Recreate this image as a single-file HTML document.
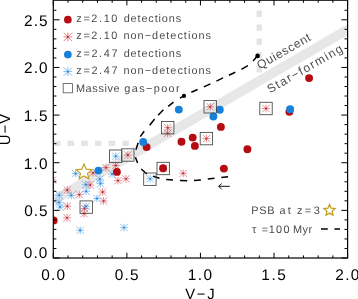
<!DOCTYPE html><html><head><meta charset="utf-8"><style>
html,body{margin:0;padding:0;background:#fff}
body{width:358px;height:299px;position:relative;overflow:hidden;font-family:"Liberation Sans",sans-serif}
svg{position:absolute;left:0;top:0}
svg.tx{will-change:transform}
svg text{font-family:"Liberation Sans",sans-serif;white-space:pre;text-rendering:geometricPrecision}
</style></head><body>
<svg width="358" height="299" viewBox="0 0 358 299" style="position:absolute;left:0;top:0">
<rect width="358" height="299" fill="#fff"/>
<defs><clipPath id="cp"><rect x="53.3" y="0.2" width="294.3" height="257.8"/></clipPath></defs>
<g clip-path="url(#cp)">
<line x1="53.2" y1="200.4" x2="349.2" y2="28.7" stroke="#e7e7e7" stroke-width="9.5"/>
<line x1="53.8" y1="143.4" x2="129" y2="143.4" stroke="#e4e4e4" stroke-width="5.4" stroke-dasharray="6.6 7.1"/>
<line x1="259.2" y1="-3.3" x2="259.2" y2="73" stroke="#e4e4e4" stroke-width="5.4" stroke-dasharray="6.3 7.6"/>
<path d="M257.6 55.6L253.1 61M247.9 65.7L241.4 69.4M235.3 72.2L228.9 75.2M223 77.9L216.4 81.1M210.4 83.9L203.8 86.9M197.6 89.5L191.3 92.3M183.9 95.8L179.9 98.1M173.5 102.1L168.2 106.3M163.4 109.8L158.1 115.2M154.6 119L149.7 125.3M144.2 131.2L140.3 136.6M138.2 142.7L135.9 149.7M135.4 157.2L137.6 163.1M141.2 169L146.9 174M153.2 176.3L159.5 178.2M166.2 179.6L173 180.1M180 180.5L187.2 180.7M194 180.5L200.9 180M207.8 179.1L214.5 178.2M221.4 177.6L228.1 176.7" fill="none" stroke="#000" stroke-width="1.5"/>
<circle cx="257.6" cy="55.9" r="2.3" fill="#000"/><circle cx="184" cy="95.9" r="2.1" fill="#000"/>
<path stroke="#d24a50" stroke-width="0.62" fill="none" d="M123.95 155.00H131.65M127.80 151.15V158.85M124.10 151.30L131.50 158.70M124.10 158.70L131.50 151.30"/><circle cx="127.80" cy="155.00" r="0.9" fill="#c4222d"/>
<path stroke="#d24a50" stroke-width="0.62" fill="none" d="M163.85 127.70H171.55M167.70 123.85V131.55M164.00 124.00L171.40 131.40M164.00 131.40L171.40 124.00"/><circle cx="167.70" cy="127.70" r="0.9" fill="#c4222d"/>
<path stroke="#d24a50" stroke-width="0.62" fill="none" d="M202.55 138.60H210.25M206.40 134.75V142.45M202.70 134.90L210.10 142.30M202.70 142.30L210.10 134.90"/><circle cx="206.40" cy="138.60" r="0.9" fill="#c4222d"/>
<path stroke="#d24a50" stroke-width="0.62" fill="none" d="M206.35 106.80H214.05M210.20 102.95V110.65M206.50 103.10L213.90 110.50M206.50 110.50L213.90 103.10"/><circle cx="210.20" cy="106.80" r="0.9" fill="#c4222d"/>
<path stroke="#d24a50" stroke-width="0.62" fill="none" d="M262.15 108.50H269.85M266.00 104.65V112.35M262.30 104.80L269.70 112.20M262.30 112.20L269.70 104.80"/><circle cx="266.00" cy="108.50" r="0.9" fill="#c4222d"/>
<path stroke="#d24a50" stroke-width="0.62" fill="none" d="M102.05 167.60H109.75M105.90 163.75V171.45M102.20 163.90L109.60 171.30M102.20 171.30L109.60 163.90"/><circle cx="105.90" cy="167.60" r="0.9" fill="#c4222d"/>
<path stroke="#d24a50" stroke-width="0.62" fill="none" d="M89.15 172.80H96.85M93.00 168.95V176.65M89.30 169.10L96.70 176.50M89.30 176.50L96.70 169.10"/><circle cx="93.00" cy="172.80" r="0.9" fill="#c4222d"/>
<path stroke="#d24a50" stroke-width="0.62" fill="none" d="M86.35 185.00H94.05M90.20 181.15V188.85M86.50 181.30L93.90 188.70M86.50 188.70L93.90 181.30"/><circle cx="90.20" cy="185.00" r="0.9" fill="#c4222d"/>
<path stroke="#d24a50" stroke-width="0.62" fill="none" d="M63.45 190.00H71.15M67.30 186.15V193.85M63.60 186.30L71.00 193.70M63.60 193.70L71.00 186.30"/><circle cx="67.30" cy="190.00" r="0.9" fill="#c4222d"/>
<path stroke="#d24a50" stroke-width="0.62" fill="none" d="M98.75 192.00H106.45M102.60 188.15V195.85M98.90 188.30L106.30 195.70M98.90 195.70L106.30 188.30"/><circle cx="102.60" cy="192.00" r="0.9" fill="#c4222d"/>
<path stroke="#d24a50" stroke-width="0.62" fill="none" d="M75.45 194.60H83.15M79.30 190.75V198.45M75.60 190.90L83.00 198.30M75.60 198.30L83.00 190.90"/><circle cx="79.30" cy="194.60" r="0.9" fill="#c4222d"/>
<path stroke="#d24a50" stroke-width="0.62" fill="none" d="M99.75 201.00H107.45M103.60 197.15V204.85M99.90 197.30L107.30 204.70M99.90 204.70L107.30 197.30"/><circle cx="103.60" cy="201.00" r="0.9" fill="#c4222d"/>
<path stroke="#d24a50" stroke-width="0.62" fill="none" d="M63.45 206.20H71.15M67.30 202.35V210.05M63.60 202.50L71.00 209.90M63.60 209.90L71.00 202.50"/><circle cx="67.30" cy="206.20" r="0.9" fill="#c4222d"/>
<path stroke="#d24a50" stroke-width="0.62" fill="none" d="M80.65 208.50H88.35M84.50 204.65V212.35M80.80 204.80L88.20 212.20M80.80 212.20L88.20 204.80"/><circle cx="84.50" cy="208.50" r="0.9" fill="#c4222d"/>
<path stroke="#d24a50" stroke-width="0.62" fill="none" d="M80.25 213.60H87.95M84.10 209.75V217.45M80.40 209.90L87.80 217.30M80.40 217.30L87.80 209.90"/><circle cx="84.10" cy="213.60" r="0.9" fill="#c4222d"/>
<path stroke="#d24a50" stroke-width="0.62" fill="none" d="M63.15 217.80H70.85M67.00 213.95V221.65M63.30 214.10L70.70 221.50M63.30 221.50L70.70 214.10"/><circle cx="67.00" cy="217.80" r="0.9" fill="#c4222d"/>
<path stroke="#d24a50" stroke-width="0.62" fill="none" d="M111.85 165.50H119.55M115.70 161.65V169.35M112.00 161.80L119.40 169.20M112.00 169.20L119.40 161.80"/><circle cx="115.70" cy="165.50" r="0.9" fill="#c4222d"/>
<path stroke="#d24a50" stroke-width="0.62" fill="none" d="M122.15 178.80H129.85M126.00 174.95V182.65M122.30 175.10L129.70 182.50M122.30 182.50L129.70 175.10"/><circle cx="126.00" cy="178.80" r="0.9" fill="#c4222d"/>
<path stroke="#d24a50" stroke-width="0.62" fill="none" d="M114.15 180.60H121.85M118.00 176.75V184.45M114.30 176.90L121.70 184.30M114.30 184.30L121.70 176.90"/><circle cx="118.00" cy="180.60" r="0.9" fill="#c4222d"/>
<path stroke="#d24a50" stroke-width="0.62" fill="none" d="M163.75 133.30H171.45M167.60 129.45V137.15M163.90 129.60L171.30 137.00M163.90 137.00L171.30 129.60"/><circle cx="167.60" cy="133.30" r="0.9" fill="#c4222d"/>
<path stroke="#d24a50" stroke-width="0.62" fill="none" d="M179.35 173.30H187.05M183.20 169.45V177.15M179.50 169.60L186.90 177.00M179.50 177.00L186.90 169.60"/><circle cx="183.20" cy="173.30" r="0.9" fill="#c4222d"/>
<path stroke="#d24a50" stroke-width="0.62" fill="none" d="M48.65 180.00H56.35M52.50 176.15V183.85M48.80 176.30L56.20 183.70M48.80 183.70L56.20 176.30"/><circle cx="52.50" cy="180.00" r="0.9" fill="#c4222d"/>
<path stroke="#d24a50" stroke-width="0.62" fill="none" d="M159.35 168.40H167.05M163.20 164.55V172.25M159.50 164.70L166.90 172.10M159.50 172.10L166.90 164.70"/><circle cx="163.20" cy="168.40" r="0.9" fill="#c4222d"/>
<path stroke="#4a9fe6" stroke-width="0.62" fill="none" d="M82.15 206.30H89.85M86.00 202.45V210.15M82.30 202.60L89.70 210.00M82.30 210.00L89.70 202.60"/><circle cx="86.00" cy="206.30" r="0.9" fill="#2281dc"/>
<path stroke="#4a9fe6" stroke-width="0.62" fill="none" d="M111.85 156.20H119.55M115.70 152.35V160.05M112.00 152.50L119.40 159.90M112.00 159.90L119.40 152.50"/><circle cx="115.70" cy="156.20" r="0.9" fill="#2281dc"/>
<path stroke="#4a9fe6" stroke-width="0.62" fill="none" d="M146.25 178.80H153.95M150.10 174.95V182.65M146.40 175.10L153.80 182.50M146.40 182.50L153.80 175.10"/><circle cx="150.10" cy="178.80" r="0.9" fill="#2281dc"/>
<path stroke="#4a9fe6" stroke-width="0.62" fill="none" d="M71.75 173.60H79.45M75.60 169.75V177.45M71.90 169.90L79.30 177.30M71.90 177.30L79.30 169.90"/><circle cx="75.60" cy="173.60" r="0.9" fill="#2281dc"/>
<path stroke="#4a9fe6" stroke-width="0.62" fill="none" d="M95.95 179.20H103.65M99.80 175.35V183.05M96.10 175.50L103.50 182.90M96.10 182.90L103.50 175.50"/><circle cx="99.80" cy="179.20" r="0.9" fill="#2281dc"/>
<path stroke="#4a9fe6" stroke-width="0.62" fill="none" d="M96.55 183.60H104.25M100.40 179.75V187.45M96.70 179.90L104.10 187.30M96.70 187.30L104.10 179.90"/><circle cx="100.40" cy="183.60" r="0.9" fill="#2281dc"/>
<path stroke="#4a9fe6" stroke-width="0.62" fill="none" d="M81.95 184.60H89.65M85.80 180.75V188.45M82.10 180.90L89.50 188.30M82.10 188.30L89.50 180.90"/><circle cx="85.80" cy="184.60" r="0.9" fill="#2281dc"/>
<path stroke="#4a9fe6" stroke-width="0.62" fill="none" d="M82.35 191.30H90.05M86.20 187.45V195.15M82.50 187.60L89.90 195.00M82.50 195.00L89.90 187.60"/><circle cx="86.20" cy="191.30" r="0.9" fill="#2281dc"/>
<path stroke="#4a9fe6" stroke-width="0.62" fill="none" d="M55.35 195.20H63.05M59.20 191.35V199.05M55.50 191.50L62.90 198.90M55.50 198.90L62.90 191.50"/><circle cx="59.20" cy="195.20" r="0.9" fill="#2281dc"/>
<path stroke="#4a9fe6" stroke-width="0.62" fill="none" d="M67.55 195.40H75.25M71.40 191.55V199.25M67.70 191.70L75.10 199.10M67.70 199.10L75.10 191.70"/><circle cx="71.40" cy="195.40" r="0.9" fill="#2281dc"/>
<path stroke="#4a9fe6" stroke-width="0.62" fill="none" d="M93.05 198.50H100.75M96.90 194.65V202.35M93.20 194.80L100.60 202.20M93.20 202.20L100.60 194.80"/><circle cx="96.90" cy="198.50" r="0.9" fill="#2281dc"/>
<path stroke="#4a9fe6" stroke-width="0.62" fill="none" d="M55.15 202.40H62.85M59.00 198.55V206.25M55.30 198.70L62.70 206.10M55.30 206.10L62.70 198.70"/><circle cx="59.00" cy="202.40" r="0.9" fill="#2281dc"/>
<path stroke="#4a9fe6" stroke-width="0.62" fill="none" d="M56.25 207.00H63.95M60.10 203.15V210.85M56.40 203.30L63.80 210.70M56.40 210.70L63.80 203.30"/><circle cx="60.10" cy="207.00" r="0.9" fill="#2281dc"/>
<path stroke="#4a9fe6" stroke-width="0.62" fill="none" d="M76.35 230.30H84.05M80.20 226.45V234.15M76.50 226.60L83.90 234.00M76.50 234.00L83.90 226.60"/><circle cx="80.20" cy="230.30" r="0.9" fill="#2281dc"/>
<path stroke="#4a9fe6" stroke-width="0.62" fill="none" d="M120.15 227.60H127.85M124.00 223.75V231.45M120.30 223.90L127.70 231.30M120.30 231.30L127.70 223.90"/><circle cx="124.00" cy="227.60" r="0.9" fill="#2281dc"/>
<path stroke="#4a9fe6" stroke-width="0.62" fill="none" d="M108.15 174.00H115.85M112.00 170.15V177.85M108.30 170.30L115.70 177.70M108.30 177.70L115.70 170.30"/><circle cx="112.00" cy="174.00" r="0.9" fill="#2281dc"/>
<circle cx="53.7" cy="220.4" r="3.95" fill="#b40c12"/>
<circle cx="116.9" cy="171.9" r="3.95" fill="#b40c12"/>
<circle cx="146.6" cy="147.1" r="3.95" fill="#b40c12"/>
<circle cx="181.5" cy="141.8" r="3.95" fill="#b40c12"/>
<circle cx="192.7" cy="137.6" r="3.95" fill="#b40c12"/>
<circle cx="194.9" cy="145.9" r="3.95" fill="#b40c12"/>
<circle cx="163.1" cy="168.3" r="3.95" fill="#b40c12"/>
<circle cx="220.9" cy="126.9" r="3.95" fill="#b40c12"/>
<circle cx="247.4" cy="149.3" r="3.95" fill="#b40c12"/>
<circle cx="223.9" cy="168.6" r="3.95" fill="#b40c12"/>
<circle cx="289.4" cy="111.8" r="3.95" fill="#b40c12"/>
<circle cx="309.1" cy="78.1" r="3.95" fill="#b40c12"/>
<circle cx="98.4" cy="170.6" r="3.95" fill="#1681da"/>
<circle cx="143.2" cy="142" r="3.95" fill="#1681da"/>
<circle cx="178.8" cy="109.6" r="3.95" fill="#1681da"/>
<circle cx="219.8" cy="109.8" r="3.95" fill="#1681da"/>
<circle cx="213.4" cy="116.5" r="3.95" fill="#1681da"/>
<circle cx="290.1" cy="109.2" r="3.95" fill="#1681da"/>
<rect x="80.00" y="200.90" width="12.4" height="12.4" fill="none" stroke="#444" stroke-width="0.85"/>
<rect x="109.50" y="150.00" width="12.4" height="12.4" fill="none" stroke="#444" stroke-width="0.85"/>
<rect x="121.60" y="148.80" width="12.4" height="12.4" fill="none" stroke="#444" stroke-width="0.85"/>
<rect x="143.70" y="173.00" width="12.4" height="12.4" fill="none" stroke="#444" stroke-width="0.85"/>
<rect x="157.00" y="162.30" width="12.4" height="12.4" fill="none" stroke="#444" stroke-width="0.85"/>
<rect x="161.50" y="121.50" width="12.4" height="12.4" fill="none" stroke="#444" stroke-width="0.85"/>
<rect x="200.20" y="132.40" width="12.4" height="12.4" fill="none" stroke="#444" stroke-width="0.85"/>
<rect x="204.00" y="100.60" width="12.4" height="12.4" fill="none" stroke="#444" stroke-width="0.85"/>
<rect x="259.80" y="102.30" width="12.4" height="12.4" fill="none" stroke="#444" stroke-width="0.85"/>
<polygon points="84.00,164.05 86.20,169.17 91.75,169.68 87.57,173.36 88.79,178.79 84.00,175.95 79.21,178.79 80.43,173.36 76.25,169.68 81.80,169.17" fill="#fff" stroke="#c2a11e" stroke-width="1.2" stroke-linejoin="miter"/>
</g>
<path d="M229.8 186.3H218.8M221.6 183.6L218.6 186.3L221.6 189" fill="none" stroke="#111" stroke-width="1.0"/>
<circle cx="67.85" cy="19.7" r="3.85" fill="#b40c12"/>
<path stroke="#d24a50" stroke-width="0.72" fill="none" d="M63.55 36.90H72.15M67.85 32.60V41.20M63.72 32.77L71.98 41.03M63.72 41.03L71.98 32.77"/><circle cx="67.85" cy="36.90" r="0.9" fill="#c4222d"/>
<circle cx="67.85" cy="54.6" r="3.85" fill="#1681da"/>
<path stroke="#4a9fe6" stroke-width="0.72" fill="none" d="M63.55 71.60H72.15M67.85 67.30V75.90M63.72 67.47L71.98 75.73M63.72 75.73L71.98 67.47"/><circle cx="67.85" cy="71.60" r="0.9" fill="#2281dc"/>
<rect x="63.2" y="83.6" width="9.2" height="9.2" fill="none" stroke="#555" stroke-width="0.8"/>
<polygon points="329.55,204.50 331.15,208.20 335.16,208.58 332.13,211.24 333.02,215.17 329.55,213.11 326.08,215.17 326.97,211.24 323.94,208.58 327.95,208.20" fill="#fff" stroke="#c2a11e" stroke-width="1.3" stroke-linejoin="miter"/>
<path d="M321 229H327.8M334.4 229H340" stroke="#000" stroke-width="1.4"/>
<rect x="53.3" y="0.2" width="294.3" height="257.8" fill="none" stroke="#000" stroke-width="1.2"/>
<path d="M53.30 258.0v-5.2M53.30 0.2v5.2M68.02 258.0v-2.6M68.02 0.2v2.6M82.73 258.0v-2.6M82.73 0.2v2.6M97.44 258.0v-2.6M97.44 0.2v2.6M112.16 258.0v-2.6M112.16 0.2v2.6M126.88 258.0v-5.2M126.88 0.2v5.2M141.59 258.0v-2.6M141.59 0.2v2.6M156.31 258.0v-2.6M156.31 0.2v2.6M171.02 258.0v-2.6M171.02 0.2v2.6M185.74 258.0v-2.6M185.74 0.2v2.6M200.45 258.0v-5.2M200.45 0.2v5.2M215.17 258.0v-2.6M215.17 0.2v2.6M229.88 258.0v-2.6M229.88 0.2v2.6M244.60 258.0v-2.6M244.60 0.2v2.6M259.31 258.0v-2.6M259.31 0.2v2.6M274.03 258.0v-5.2M274.03 0.2v5.2M288.74 258.0v-2.6M288.74 0.2v2.6M303.45 258.0v-2.6M303.45 0.2v2.6M318.17 258.0v-2.6M318.17 0.2v2.6M332.88 258.0v-2.6M332.88 0.2v2.6M347.60 258.0v-5.2M347.60 0.2v5.2M53.3 258.00h6.2M347.6 258.00h-6.2M53.3 248.47h3.1M347.6 248.47h-3.1M53.3 238.94h3.1M347.6 238.94h-3.1M53.3 229.42h3.1M347.6 229.42h-3.1M53.3 219.89h3.1M347.6 219.89h-3.1M53.3 210.36h6.2M347.6 210.36h-6.2M53.3 200.83h3.1M347.6 200.83h-3.1M53.3 191.30h3.1M347.6 191.30h-3.1M53.3 181.78h3.1M347.6 181.78h-3.1M53.3 172.25h3.1M347.6 172.25h-3.1M53.3 162.72h6.2M347.6 162.72h-6.2M53.3 153.19h3.1M347.6 153.19h-3.1M53.3 143.66h3.1M347.6 143.66h-3.1M53.3 134.14h3.1M347.6 134.14h-3.1M53.3 124.61h3.1M347.6 124.61h-3.1M53.3 115.08h6.2M347.6 115.08h-6.2M53.3 105.55h3.1M347.6 105.55h-3.1M53.3 96.02h3.1M347.6 96.02h-3.1M53.3 86.50h3.1M347.6 86.50h-3.1M53.3 76.97h3.1M347.6 76.97h-3.1M53.3 67.44h6.2M347.6 67.44h-6.2M53.3 57.91h3.1M347.6 57.91h-3.1M53.3 48.38h3.1M347.6 48.38h-3.1M53.3 38.86h3.1M347.6 38.86h-3.1M53.3 29.33h3.1M347.6 29.33h-3.1M53.3 19.80h6.2M347.6 19.80h-6.2M53.3 10.27h3.1M347.6 10.27h-3.1" stroke="#000" stroke-width="1.0" fill="none"/>
</svg>
<svg class="tx" width="358" height="299" viewBox="0 0 358 299">
<text x="76.35" y="21.90" font-size="10.9" letter-spacing="1.609" fill="#4c4c4c">z=2.10</text>
<text x="123.64" y="21.90" font-size="10.9" letter-spacing="0.873" fill="#4c4c4c">detections</text>
<text x="76.35" y="39.30" font-size="10.9" letter-spacing="1.609" fill="#4c4c4c">z=2.10</text>
<text x="123.38" y="39.30" font-size="10.9" letter-spacing="1.036" fill="#4c4c4c">non−detections</text>
<text x="76.35" y="56.70" font-size="10.9" letter-spacing="1.633" fill="#4c4c4c">z=2.47</text>
<text x="123.64" y="56.70" font-size="10.9" letter-spacing="0.873" fill="#4c4c4c">detections</text>
<text x="76.35" y="73.90" font-size="10.9" letter-spacing="1.633" fill="#4c4c4c">z=2.47</text>
<text x="123.38" y="73.90" font-size="10.9" letter-spacing="1.036" fill="#4c4c4c">non−detections</text>
<text x="75.91" y="91.50" font-size="10.9" letter-spacing="0.633" fill="#4c4c4c">Massive</text>
<text x="124.34" y="91.50" font-size="10.9" letter-spacing="1.370" fill="#4c4c4c">gas−poor</text>
<text x="251.31" y="214.40" font-size="10.9" letter-spacing="0.680" fill="#4c4c4c">PSB</text>
<text x="279.54" y="214.40" font-size="10.9" letter-spacing="2.142" fill="#4c4c4c">at</text>
<text x="296.95" y="214.40" font-size="10.9" letter-spacing="2.475" fill="#4c4c4c">z=3</text>
<text x="252.05" y="232.70" font-size="10.9" letter-spacing="5.415" fill="#4c4c4c">τ=</text>
<text x="268.77" y="232.70" font-size="10.9" letter-spacing="1.284" fill="#4c4c4c">100</text>
<text x="293.11" y="232.70" font-size="10.9" letter-spacing="0.410" fill="#4c4c4c">Myr</text>
<text x="24.20" y="216.36" font-size="15.4" letter-spacing="1.021" fill="#000">0.5</text>
<text x="23.63" y="168.72" font-size="15.4" letter-spacing="1.283" fill="#000">1.0</text>
<text x="23.63" y="121.08" font-size="15.4" letter-spacing="1.306" fill="#000">1.5</text>
<text x="24.03" y="73.44" font-size="15.4" letter-spacing="1.082" fill="#000">2.0</text>
<text x="24.03" y="25.80" font-size="15.4" letter-spacing="1.106" fill="#000">2.5</text>
<text x="23.80" y="258.10" font-size="15.4" letter-spacing="1.098" fill="#000">0.0</text>
<text x="41.20" y="280.10" font-size="15.4" letter-spacing="1.198" fill="#000">0.0</text>
<text x="114.77" y="280.10" font-size="15.4" letter-spacing="1.221" fill="#000">0.5</text>
<text x="187.78" y="280.10" font-size="15.4" letter-spacing="1.483" fill="#000">1.0</text>
<text x="261.35" y="280.10" font-size="15.4" letter-spacing="1.506" fill="#000">1.5</text>
<text x="335.33" y="280.10" font-size="15.4" letter-spacing="1.282" fill="#000">2.0</text>
<text x="185.23" y="298.60" font-size="14.8" letter-spacing="1.777" fill="#000">V−J</text>
<g transform="translate(10.4,144.2) rotate(-90)"><text x="-1.14" y="0.00" font-size="14.8" letter-spacing="1.105" fill="#000">U−V</text></g>
<g transform="translate(260.3,69.3) rotate(-29.8)"><text x="-0.56" y="0.00" font-size="12" letter-spacing="0.727" fill="#4c4c4c">Quiescent</text></g>
<g transform="translate(270.4,93.2) rotate(-29.8)"><text x="-0.55" y="0.00" font-size="12" letter-spacing="1.445" fill="#4c4c4c">Star−forming</text></g>
</svg>
</body></html>
